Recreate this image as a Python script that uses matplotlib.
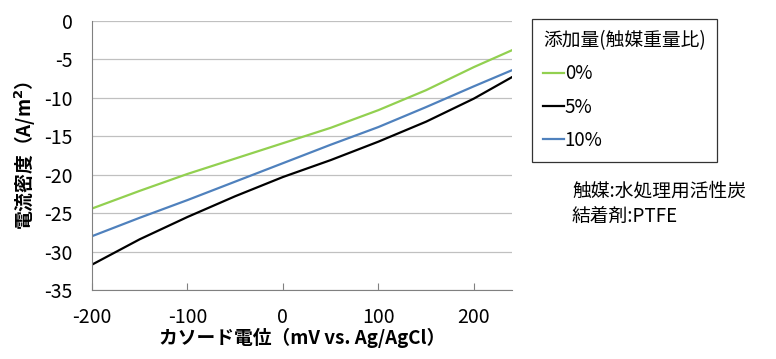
import matplotlib.pyplot as plt

plt.rcParams['font.family'] = ['Noto Sans CJK JP', 'DejaVu Sans']
plt.rcParams['axes.unicode_minus'] = False

# cathode potential (mV vs. Ag/AgCl)
potential = [-200, -150, -100, -50, 0, 50, 100, 150, 200, 240]

# current density (A/m2) by catalyst addition
cd_0 = [-24.4, -22.1, -19.9, -17.9, -15.9, -13.9, -11.6, -9.0, -6.0, -3.8]
cd_5 = [-31.7, -28.4, -25.5, -22.8, -20.3, -18.1, -15.7, -13.1, -10.1, -7.3]
cd_10 = [-28.0, -25.6, -23.3, -20.9, -18.5, -16.1, -13.8, -11.2, -8.5, -6.4]

labels = ["0%", "5%", "10%"]
colors = ["#92d050", "#000000", "#4f81bd"]

fig = plt.figure(figsize=(7.76, 3.59), dpi=100)
ax = fig.add_axes([92 / 776, 1 - 290 / 359, 420 / 776, 269 / 359])

for y, lab, c in zip([cd_0, cd_5, cd_10], labels, colors):
    ax.plot(potential, y, color=c, linewidth=1.6, label=lab)

ax.set_xlim(-200, 240)
ax.set_ylim(-35, 0)
ax.set_xticks([-200, -100, 0, 100, 200])
ax.set_yticks(range(-35, 1, 5))
ax.yaxis.grid(True, color="#c0c0c0", linewidth=0.9)
ax.set_axisbelow(True)
for s in ["top", "right"]:
    ax.spines[s].set_visible(False)
for s in ["left", "bottom"]:
    ax.spines[s].set_color("#808080")
ax.tick_params(axis="x", direction="in", length=5, color="#808080",
               labelsize=14, pad=12)
ax.tick_params(axis="y", length=0, labelsize=14, pad=14)

ax.set_xlabel("カソード電位（mV vs. Ag/AgCl）", fontsize=13.5,
              fontweight="bold", labelpad=0)
ax.set_ylabel("電流密度（A/m$^\\mathbf{2}$）", fontsize=13.5,
              fontweight="bold", labelpad=4)

leg = fig.legend(loc="upper left", bbox_to_anchor=(532 / 776, 1 - 19 / 359),
                 title="添加量(触媒重量比)", fontsize=13.5, title_fontsize=13.5,
                 handlelength=1.1, handletextpad=0.05, labelspacing=0.65,
                 frameon=True, fancybox=False, borderpad=0.6,
                 borderaxespad=0)
leg._legend_box.align = "left"
leg.get_frame().set_edgecolor("#000000")
leg.get_frame().set_linewidth(0.9)

fig.text(572 / 776, 1 - 191 / 359, "触媒:水処理用活性炭", fontsize=13.5,
         va="center")
fig.text(572 / 776, 1 - 216 / 359, "結着剤:PTFE", fontsize=13.5, va="center")

fig.savefig("out.png", dpi=100)
